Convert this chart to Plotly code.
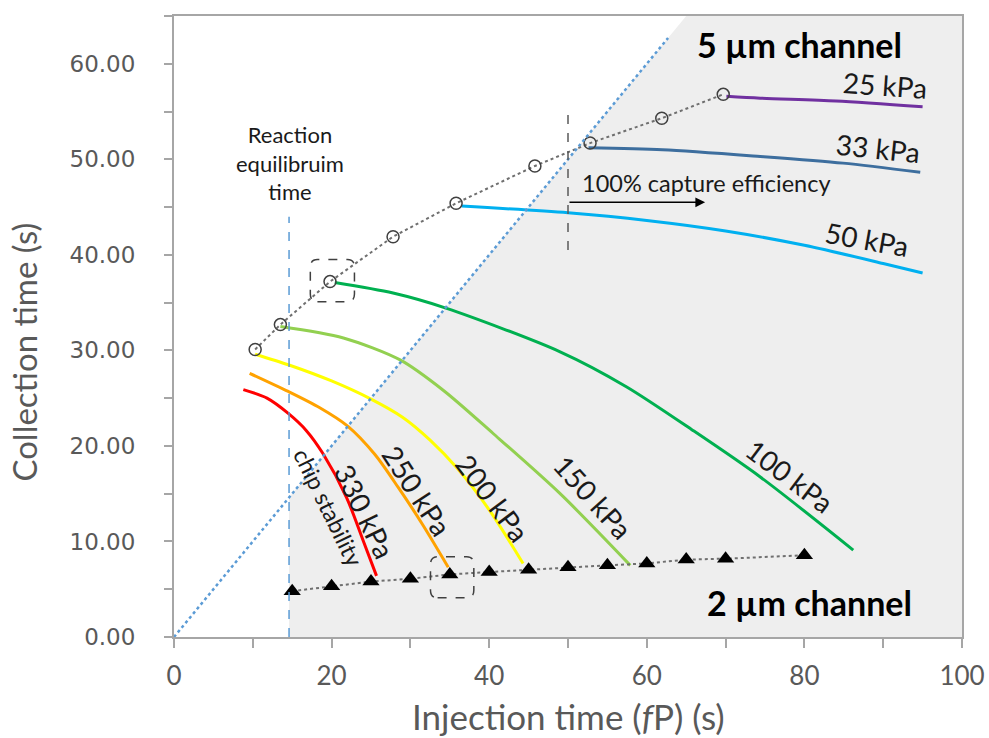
import plotly.graph_objects as go

# ---------------- data ----------------
circ_x = [10.3, 13.5, 19.8, 27.8, 35.8, 45.8, 52.8, 61.9, 69.7]
circ_y = [30.1, 32.7, 37.2, 41.9, 45.4, 49.3, 51.7, 54.3, 56.8]

tri_x = [15, 20, 25, 30, 35, 40, 45, 50, 55, 60, 65, 70, 80]
tri_y = [4.8, 5.3, 5.8, 6.1, 6.55, 6.8, 7.05, 7.3, 7.5, 7.7, 8.1, 8.2, 8.55]

p330_x = [8.8, 11.8, 14.5, 16.8, 18.9, 21.9, 24.0, 25.7]
p330_y = [25.9, 25.0, 23.4, 21.6, 19.2, 14.6, 10.1, 6.4]

p250_x = [9.6, 14.5, 18.5, 22.0, 25.5, 28.5, 31.6, 34.8]
p250_y = [27.6, 25.7, 24.0, 22.1, 19.1, 15.6, 11.7, 7.3]

p200_x = [10.3, 14.5, 20.0, 25.0, 29.0, 32.5, 36.0, 40.0, 44.3]
p200_y = [29.6, 28.5, 26.8, 24.9, 23.0, 20.6, 17.6, 13.3, 7.7]

p150_x = [13.5, 21.5, 28.7, 34.2, 40.5, 49.0, 57.9]
p150_y = [32.5, 31.3, 29.0, 25.8, 21.3, 15.0, 7.5]

p100_x = [20.4, 27.8, 34.6, 49.0, 57.4, 65.9, 74.4, 86.2]
p100_y = [37.1, 36.0, 34.4, 29.85, 26.2, 21.6, 16.75, 9.1]

p50_x = [36.5, 50.0, 60.0, 70.0, 80.0, 90.0, 95.0]
p50_y = [45.1, 44.4, 43.6, 42.5, 41.0, 39.1, 38.1]

p33_x = [52.6, 62.0, 74.4, 84.9, 94.7]
p33_y = [51.2, 51.0, 50.3, 49.6, 48.65]

p25_x = [70.1, 74.4, 84.0, 95.0]
p25_y = [56.6, 56.4, 56.1, 55.5]

curve_names = ["330 kPa", "250 kPa", "200 kPa", "150 kPa", "100 kPa", "50 kPa", "33 kPa", "25 kPa"]
curve_colors = ["#FF0000", "#FFA200", "#FFFF00", "#92D050", "#00B050", "#00B0F0", "#3D6E9E", "#7030A0"]
curves_x = [p330_x, p250_x, p200_x, p150_x, p100_x, p50_x, p33_x, p25_x]
curves_y = [p330_y, p250_y, p200_y, p150_y, p100_y, p50_y, p33_y, p25_y]

# label positions / angles (x, y, angle)
label_x = [24.2, 30.9, 40.5, 53.2, 78.2, 87.9, 89.4, 90.2]
label_y = [13.2, 15.3, 14.6, 14.65, 16.9, 41.7, 51.2, 57.8]
label_ang = [64, 57, 53, 48, 37, 10, 6, 4]

equil_time = 14.6       # reaction equilibrium time (s)
capture_time = 50.0     # 100% capture efficiency threshold
y_max = 65
x_max = 100

FONT = "Lato"
TXT = "#1a1a1a"
AXC = "#595959"

fig = go.Figure()

# grey feasible region: x >= equilibrium time and y <= x
fig.add_shape(type="path",
              path=f"M {equil_time},0 L {equil_time},{equil_time} L {y_max},{y_max} L {x_max},{y_max} L {x_max},0 Z",
              fillcolor="#EEEEEE", line=dict(width=0), layer="below")

# curves
for cx, cy, col, nm in zip(curves_x, curves_y, curve_colors, curve_names):
    fig.add_trace(go.Scatter(x=cx, y=cy, mode="lines", name=nm,
                             line=dict(color=col, width=3, shape="spline", smoothing=0.8)))

# 5 um channel (open circles)
fig.add_trace(go.Scatter(x=circ_x, y=circ_y, mode="lines+markers", name="5 µm",
                         line=dict(color="#6F6F6F", width=2, dash="dot"),
                         marker=dict(symbol="circle-open", size=12, color="#404040",
                                     line=dict(width=1.5, color="#404040"))))
# 2 um channel (filled triangles)
fig.add_trace(go.Scatter(x=tri_x, y=tri_y, mode="lines+markers", name="2 µm",
                         line=dict(color="#6F6F6F", width=2, dash="dot"),
                         marker=dict(symbol="triangle-up", size=15, color="#000000")))

# diagonal y = x (chip stability)
diag_end = 62.7
fig.add_shape(type="line", x0=0, y0=0, x1=diag_end, y1=diag_end,
              line=dict(color="#5B9BD5", width=2.5, dash="dot"))
# reaction equilibrium time
fig.add_shape(type="line", x0=equil_time, y0=0, x1=equil_time, y1=44,
              line=dict(color="#5B9BD5", width=1.5, dash="dash"))
# 100% capture efficiency
fig.add_shape(type="line", x0=capture_time, y0=40.5, x1=capture_time, y1=55.5,
              line=dict(color="#595959", width=1.5, dash="dash"))


def rounded_box(cx, cy, hw, hh, rx, ry):
    x0, x1, y0, y1 = cx - hw, cx + hw, cy - hh, cy + hh
    return (f"M {x0+rx},{y0} L {x1-rx},{y0} Q {x1},{y0} {x1},{y0+ry} "
            f"L {x1},{y1-ry} Q {x1},{y1} {x1-rx},{y1} "
            f"L {x0+rx},{y1} Q {x0},{y1} {x0},{y1-ry} "
            f"L {x0},{y0+ry} Q {x0},{y0} {x0+rx},{y0} Z")


# highlighted points
hl_c = 2
hl_t = 4
fig.add_shape(type="path", path=rounded_box(circ_x[hl_c] + 0.3, circ_y[hl_c] + 0.1, 2.8, 2.2, 0.9, 0.8),
              line=dict(color="#404040", width=1.5, dash="dash"))
fig.add_shape(type="path", path=rounded_box(tri_x[hl_t] + 0.3, tri_y[hl_t] - 0.3, 2.75, 2.15, 0.9, 0.8),
              line=dict(color="#404040", width=1.5, dash="dash"))

ann = []
for nm, lx, ly, la in zip(curve_names, label_x, label_y, label_ang):
    ann.append(dict(x=lx, y=ly, text=nm, textangle=la, showarrow=False,
                    font=dict(family=FONT, size=28, color=TXT)))

ann.append(dict(x=19.6, y=13.6, text="chip stability", textangle=64, showarrow=False,
                font=dict(family=FONT, size=23, color=TXT)))
ann.append(dict(x=14.7, y=49.6, text="Reaction<br>equilibruim<br>time", showarrow=False,
                font=dict(family=FONT, size=22, color=TXT)))
ann.append(dict(x=67.6, y=47.5, text="100% capture efficiency", showarrow=False,
                font=dict(family=FONT, size=23.5, color=TXT)))
ann.append(dict(x=67.4, y=45.5, ax=capture_time, ay=45.5, axref="x", ayref="y",
                text="", showarrow=True, arrowhead=2, arrowsize=1.3, arrowwidth=1.5,
                arrowcolor="#000000"))
ann.append(dict(x=79.4, y=62.0, text="<b>5 µm channel</b>", showarrow=False,
                font=dict(family=FONT, size=34, color="#000000")))
ann.append(dict(x=80.7, y=3.6, text="<b>2 µm channel</b>", showarrow=False,
                font=dict(family=FONT, size=34, color="#000000")))

# axis titles
ann.append(dict(x=0.5, y=0, xref="paper", yref="paper", yshift=-79, xanchor="center",
                yanchor="middle", text="Injection time (<i>f</i>P) (s)", showarrow=False,
                font=dict(family=FONT, size=35, color=AXC)))
ann.append(dict(x=0, y=0.458, xref="paper", yref="paper", xshift=-150, xanchor="center",
                yanchor="middle", text="Collection time (s)", textangle=-90, showarrow=False,
                font=dict(family=FONT, size=33, color=AXC)))

fig.update_layout(
    width=989, height=738,
    margin=dict(l=174, r=27, t=16, b=101, autoexpand=False),
    paper_bgcolor="white", plot_bgcolor="white",
    showlegend=False,
    annotations=ann,
    xaxis=dict(range=[0, x_max], dtick=20, tick0=0, showgrid=False, zeroline=False,
               automargin=False,
               showline=True, linecolor="#A6A6A6", linewidth=2, mirror=True,
               ticks="outside", ticklen=9, tickcolor="#A6A6A6", tickwidth=1.5,
               ticklabelstandoff=6,
               minor=dict(dtick=10, ticks="outside", ticklen=9, tickcolor="#A6A6A6", tickwidth=1.5),
               tickfont=dict(family=FONT, size=26, color=AXC)),
    yaxis=dict(range=[0, y_max], dtick=10, tick0=0, showgrid=False, zeroline=False,
               automargin=False,
               showline=True, linecolor="#A6A6A6", linewidth=2, mirror=True,
               ticks="outside", ticklen=8, tickcolor="#A6A6A6", tickwidth=1.5,
               tickformat=".2f", ticklabelstandoff=24,
               minor=dict(dtick=5, ticks="outside", ticklen=8, tickcolor="#A6A6A6", tickwidth=1.5),
               tickfont=dict(family="DejaVu Sans", size=23, color=AXC)),
)

fig.write_html("out.html")
